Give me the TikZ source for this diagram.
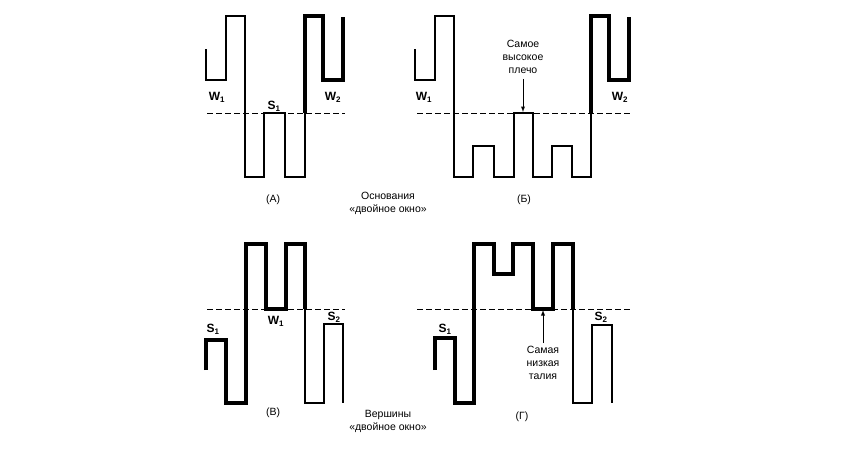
\documentclass[tikz,border=0pt]{standalone}
\usepackage{fontspec}
\setmainfont{Liberation Sans}
\usetikzlibrary{arrows,positioning}
\begin{document}
\begin{tikzpicture}
	[x=1pt,y=-1pt,
	thinline/.style={line width=1.3pt,line join=miter},
	thickline/.style={line width=3.2pt,line join=miter},
	level/.style={dash pattern=on 6pt off 3pt,line width=0.9pt},
	lbl/.style={font=\fontsize{12}{13}\bfseries,inner sep=1pt},
	note/.style={font=\fontsize{10.5}{13}\selectfont,align=center,inner sep=1pt},
	pointer/.style={-latex,line width=0.9pt}]
	\useasboundingbox (0,0) rectangle (857,453);
%%	panel A
	\draw [level] (207,113) -- (345,113);
	\draw [thinline] (206,49) |- (226,80) |- (245,16) |- (264,177) |- (285,113) |- (305,177) -- (305,113);
	\draw [thickline] (305,113) |- (323,16) |- (343,80) -- (343,17);
	\node (wA1) at (217,97) [lbl] {W\textsubscript{1}};
	\node (sA1) at (274,106) [lbl] {S\textsubscript{1}};
	\node (wA2) at (333,97) [lbl] {W\textsubscript{2}};
	\node (capA) at (273,200) [note] {(А)};
%%	panel B
	\draw [level] (417,113) -- (630,113);
	\draw [thinline] (415,49) |- (435,80) |- (454,16) |- (473,177) |- (494,146) |- (514,177) |- (533,113) |- (552,177) |- (572,146) |- (591,177) -- (591,113);
	\draw [thickline] (591,113) |- (609,16) |- (629,80) -- (629,17);
	\node (wB1) at (424,97) [lbl] {W\textsubscript{1}};
	\node (wB2) at (620,97) [lbl] {W\textsubscript{2}};
	\node (hi) at (523,57) [note] {Самое\\высокое\\плечо};
	\coordinate (hitop) at (523,112);
	\draw [pointer,shorten <=4pt] (hi) -- (hitop);
	\node (capB) at (524,200) [note] {(Б)};
%%	panel V
	\draw [level] (207,309) -- (345,309);
	\draw [thickline] (206,370) |- (226,340) |- (246,403) |- (266,244) |- (286,309) |- (305,244) -- (305,309);
	\draw [thinline] (305,309) |- (324,403) |- (343,324) -- (343,403);
	\node (sV1) at (213,329) [lbl] {S\textsubscript{1}};
	\node (wV1) at (276,321) [lbl] {W\textsubscript{1}};
	\node (sV2) at (334,317) [lbl] {S\textsubscript{2}};
	\node (capV) at (273,413) [note] {(В)};
%%	panel G
	\draw [level] (417,309) -- (630,309);
	\draw [thickline] (435,370) |- (455,338) |- (474,403) |- (494,244) |- (513,274) |- (533,244) |- (553,309) |- (573,244) -- (573,309);
	\draw [thinline] (573,309) |- (592,403) |- (612,325) -- (612,403);
	\node (sG1) at (445,329) [lbl] {S\textsubscript{1}};
	\node (sG2) at (601,317) [lbl] {S\textsubscript{2}};
	\node (lo) at (543,363) [note] {Самая\\низкая\\талия};
	\coordinate (lotop) at (543,310);
	\draw [pointer,shorten <=2pt] (lo) -- (lotop);
	\node (capG) at (522,417) [note] {(Г)};
%%	captions
	\node (bases) at (388,203) [note] {Основания\\«двойное окно»};
	\node (tops) at (388,421) [note] {Вершины\\«двойное окно»};
\end{tikzpicture}
\end{document}
